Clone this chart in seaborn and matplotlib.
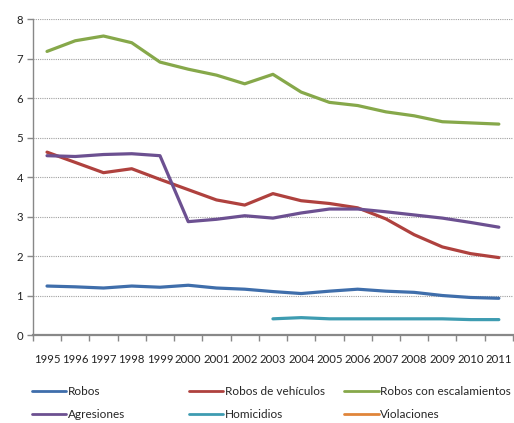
import numpy as np
import pandas as pd
import matplotlib
matplotlib.use("Agg")
import matplotlib.pyplot as plt
from matplotlib.lines import Line2D
import seaborn as sns

years = list(range(1995, 2012))
robos = [1.24, 1.22, 1.19, 1.24, 1.21, 1.26, 1.19, 1.16, 1.10, 1.05, 1.11, 1.16, 1.11, 1.08, 1.00, 0.95, 0.93]
robos_vehiculos = [4.63, 4.37, 4.11, 4.21, 3.94, 3.68, 3.42, 3.29, 3.58, 3.40, 3.33, 3.22, 2.94, 2.54, 2.23, 2.06, 1.96]
robos_escalamientos = [7.18, 7.45, 7.57, 7.40, 6.91, 6.73, 6.58, 6.36, 6.60, 6.15, 5.89, 5.81, 5.65, 5.55, 5.40, 5.37, 5.34]
agresiones = [4.54, 4.52, 4.57, 4.59, 4.54, 2.87, 2.93, 3.02, 2.96, 3.09, 3.19, 3.19, 3.12, 3.04, 2.96, 2.85, 2.73]
homicidios = [np.nan] * 8 + [0.41, 0.44, 0.41, 0.41, 0.41, 0.41, 0.41, 0.39, 0.39]
violaciones = [np.nan] * 17

series_names = ["Robos", "Robos de vehículos", "Robos con escalamientos",
                "Agresiones", "Homicidios", "Violaciones"]
series_values = [robos, robos_vehiculos, robos_escalamientos, agresiones, homicidios, violaciones]
colors = ["#3F6EAB", "#AF413E", "#86A84A", "#6C5091", "#3E9CB1", "#E0853A"]

sns.set_theme(style="white")
plt.rcParams["font.family"] = ["Lato", "DejaVu Sans"]

fig = plt.figure(figsize=(5.14, 4.23), dpi=100)
ax = fig.add_axes([0.064, 0.208, 0.934, 0.747])

for name, vals, c in zip(series_names, series_values, colors):
    df = pd.DataFrame({"year": years, "value": vals}).dropna()
    if len(df):
        sns.lineplot(data=df, x="year", y="value", color=c, linewidth=2.3, ax=ax, legend=False)

ax.set_xlim(1994.5, 2011.5)
ax.set_ylim(0, 8)
ax.set_yticks(range(0, 9))
ax.set_xticks(years)
ax.set_xticklabels([str(y) for y in years], fontsize=8.2, color="#222222")
ax.set_xticks(np.arange(1994.5, 2012, 1), minor=True)
ax.tick_params(axis="x", which="major", length=0, pad=14)
ax.tick_params(axis="x", which="minor", length=4, width=1, color="#888888", direction="out", bottom=True)
ax.tick_params(axis="y", length=4, width=1, color="#888888", direction="out", left=True, labelsize=8.2, labelcolor="#222222", pad=3)
ax.set_xlabel("")
ax.set_ylabel("")
ax.yaxis.grid(True, linestyle=(0, (1, 1)), color="#A0A0A0", linewidth=0.8)
ax.xaxis.grid(False)
for s in ["top", "right"]:
    ax.spines[s].set_visible(False)
ax.spines["left"].set_color("#888888")
ax.spines["left"].set_linewidth(1)
ax.spines["bottom"].set_color("#888888")
ax.spines["bottom"].set_linewidth(1.6)

handles = [Line2D([0], [0], color=c, linewidth=2) for c in colors]
col_x = [0.062, 0.368, 0.670]
for i in range(3):
    idx = [i, i + 3]
    fig.legend([handles[j] for j in idx], [series_names[j] for j in idx],
               loc="upper left", bbox_to_anchor=(col_x[i], 0.087), frameon=False,
               fontsize=8.5, handlelength=2.9, handletextpad=0.15, labelspacing=1.0,
               borderaxespad=0, borderpad=0)

fig.savefig("out.png", dpi=100)
